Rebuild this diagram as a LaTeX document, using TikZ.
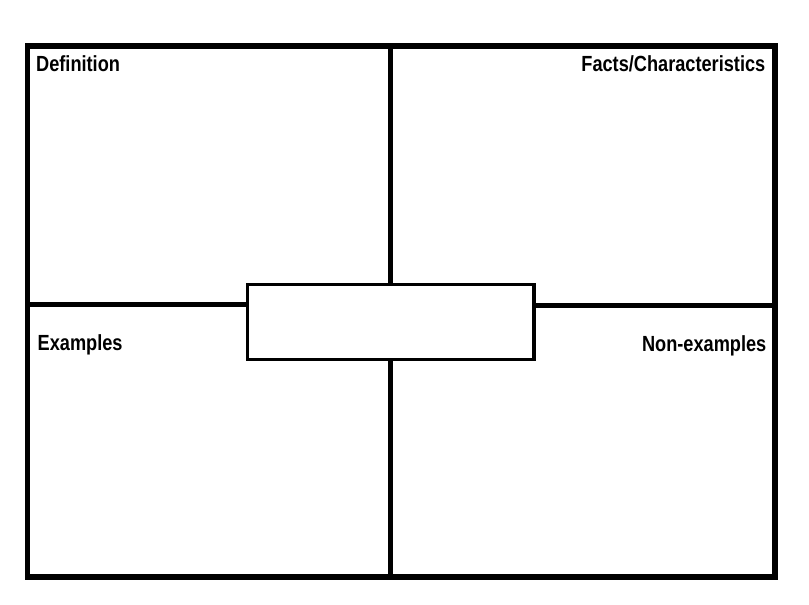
\documentclass[tikz,border=0pt]{standalone}
\usepackage{fontspec}
\newfontfamily\labelfont{Liberation Sans Bold}[FakeStretch=0.83]
\tikzset{
  frame/.style = {draw=black, line width=5.5pt},
  divider/.style = {draw=black, line width=5pt},
  termbox/.style = {rectangle, draw=black, line width=3.3pt, fill=white,
    minimum width=286.5pt, minimum height=75pt, inner sep=0pt},% box in the middle
  lbl/.style = {inner sep=0pt, font=\labelfont\fontsize{21.9}{24}\selectfont}
}

\begin{document}
\begin{tikzpicture}[x=1pt,y=1pt]
\useasboundingbox (0,0) rectangle (809,605);
% points on the frame
\coordinate (top) at (390,559);
\coordinate (bottom) at (390,28);
\coordinate (left) at (27.5,300);
\coordinate (right) at (775,299);
\node [termbox] (term) at (390.75,283) {};
\draw [divider] (top) -- (top |- term.north);
\draw [divider] (bottom) -- (bottom |- term.south);
\draw [divider] (left) -- (left -| term.west);
\draw [divider] (right) -- (right -| term.east);
\draw [frame] (27.5,28) rectangle (775,559);
\node [lbl, anchor=base west] (definition) at (36,533) {Definition};
\node [lbl, anchor=base east] (facts) at (765.5,533) {Facts/Characteristics};
\node [lbl, anchor=base west] (examples) at (37.5,254) {Examples};
\node [lbl, anchor=base east] (nonexamples) at (766.5,253.5) {Non-examples};
\end{tikzpicture}
\end{document}
